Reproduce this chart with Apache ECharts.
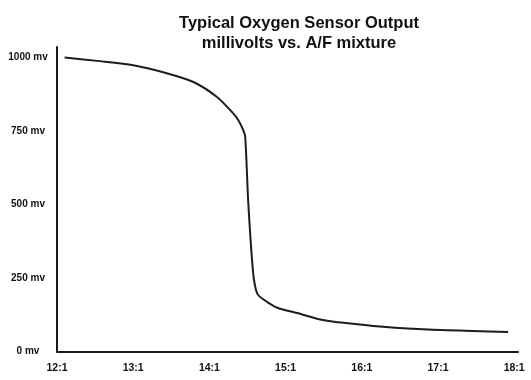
<!DOCTYPE html>
<html>
<head>
<meta charset="utf-8">
<script src="https://cdn.jsdelivr.net/npm/echarts@6/dist/echarts.min.js"></script>
<style>
html,body{margin:0;padding:0;background:#fff;}
#c{width:531px;height:380px;}
</style>
</head>
<body>
<div id="c"></div>
<script>
var titleLines = ['Typical Oxygen Sensor Output', 'millivolts vs. A/F mixture'];
var xTickValues = [12, 13, 14, 15, 16, 17, 18];
var xTickLabels = ['12:1', '13:1', '14:1', '15:1', '16:1', '17:1', '18:1'];
var yTickValues = [0, 250, 500, 750, 1000];
var yTickLabels = ['0 mv', '250 mv', '500 mv', '750 mv', '1000 mv'];
var afRatio = [12.10, 12.56, 13.00, 13.44, 13.79, 14.10, 14.31, 14.38, 14.44, 14.47, 14.51, 14.57, 14.60, 14.64, 14.76, 14.90, 15.15, 15.49, 16.15, 16.80, 17.46, 17.92];
var millivolts = [999, 987, 973, 946, 916, 865, 810, 786, 755, 730, 506, 277, 222, 192, 168, 148, 131, 107, 87, 76, 70, 66];

var seriesData = afRatio.map(function (x, i) { return [x, millivolts[i]]; });
var font = '"Liberation Sans", Arial, sans-serif';

var chart = echarts.init(document.getElementById('c'), null, {renderer: 'canvas'});
chart.setOption({
  animation: false,
  backgroundColor: '#ffffff',
  title: {
    text: titleLines.join('\n'),
    left: 299,
    top: 13,
    padding: 0,
    textAlign: 'center',
    textStyle: {fontFamily: font, fontWeight: 'bold', fontSize: 16.5, lineHeight: 20, color: '#111'}
  },
  grid: {left: 57, right: 13, top: 47, bottom: 28.5, containLabel: false},
  xAxis: {
    type: 'value',
    min: 12,
    max: 18.05,
    interval: 1,
    axisLine: {show: true, lineStyle: {color: '#1a1a1a', width: 2}},
    axisTick: {show: false},
    splitLine: {show: false},
    axisLabel: {
      margin: 11,
      fontFamily: font, fontWeight: 'bold', fontSize: 10.5, color: '#111',
      showMaxLabel: true,
      formatter: function (v) {
        var i = xTickValues.indexOf(Math.round(v * 1000) / 1000);
        return i >= 0 ? xTickLabels[i] : '';
      }
    }
  },
  yAxis: {
    type: 'value',
    min: 0,
    max: 1035,
    interval: 250,
    axisLine: {show: true, lineStyle: {color: '#1a1a1a', width: 2}},
    axisTick: {show: false},
    splitLine: {show: false},
    axisLabel: {
      margin: 29,
      align: 'center',
      fontFamily: font, fontWeight: 'bold', fontSize: 10, color: '#111',
      formatter: function (v) {
        var i = yTickValues.indexOf(v);
        return i >= 0 ? yTickLabels[i] : '';
      }
    }
  },
  series: [{
    type: 'line',
    data: seriesData,
    smooth: 0.25,
    symbol: 'none',
    lineStyle: {color: '#1c1c1c', width: 2}
  }]
});
</script>
</body>
</html>
